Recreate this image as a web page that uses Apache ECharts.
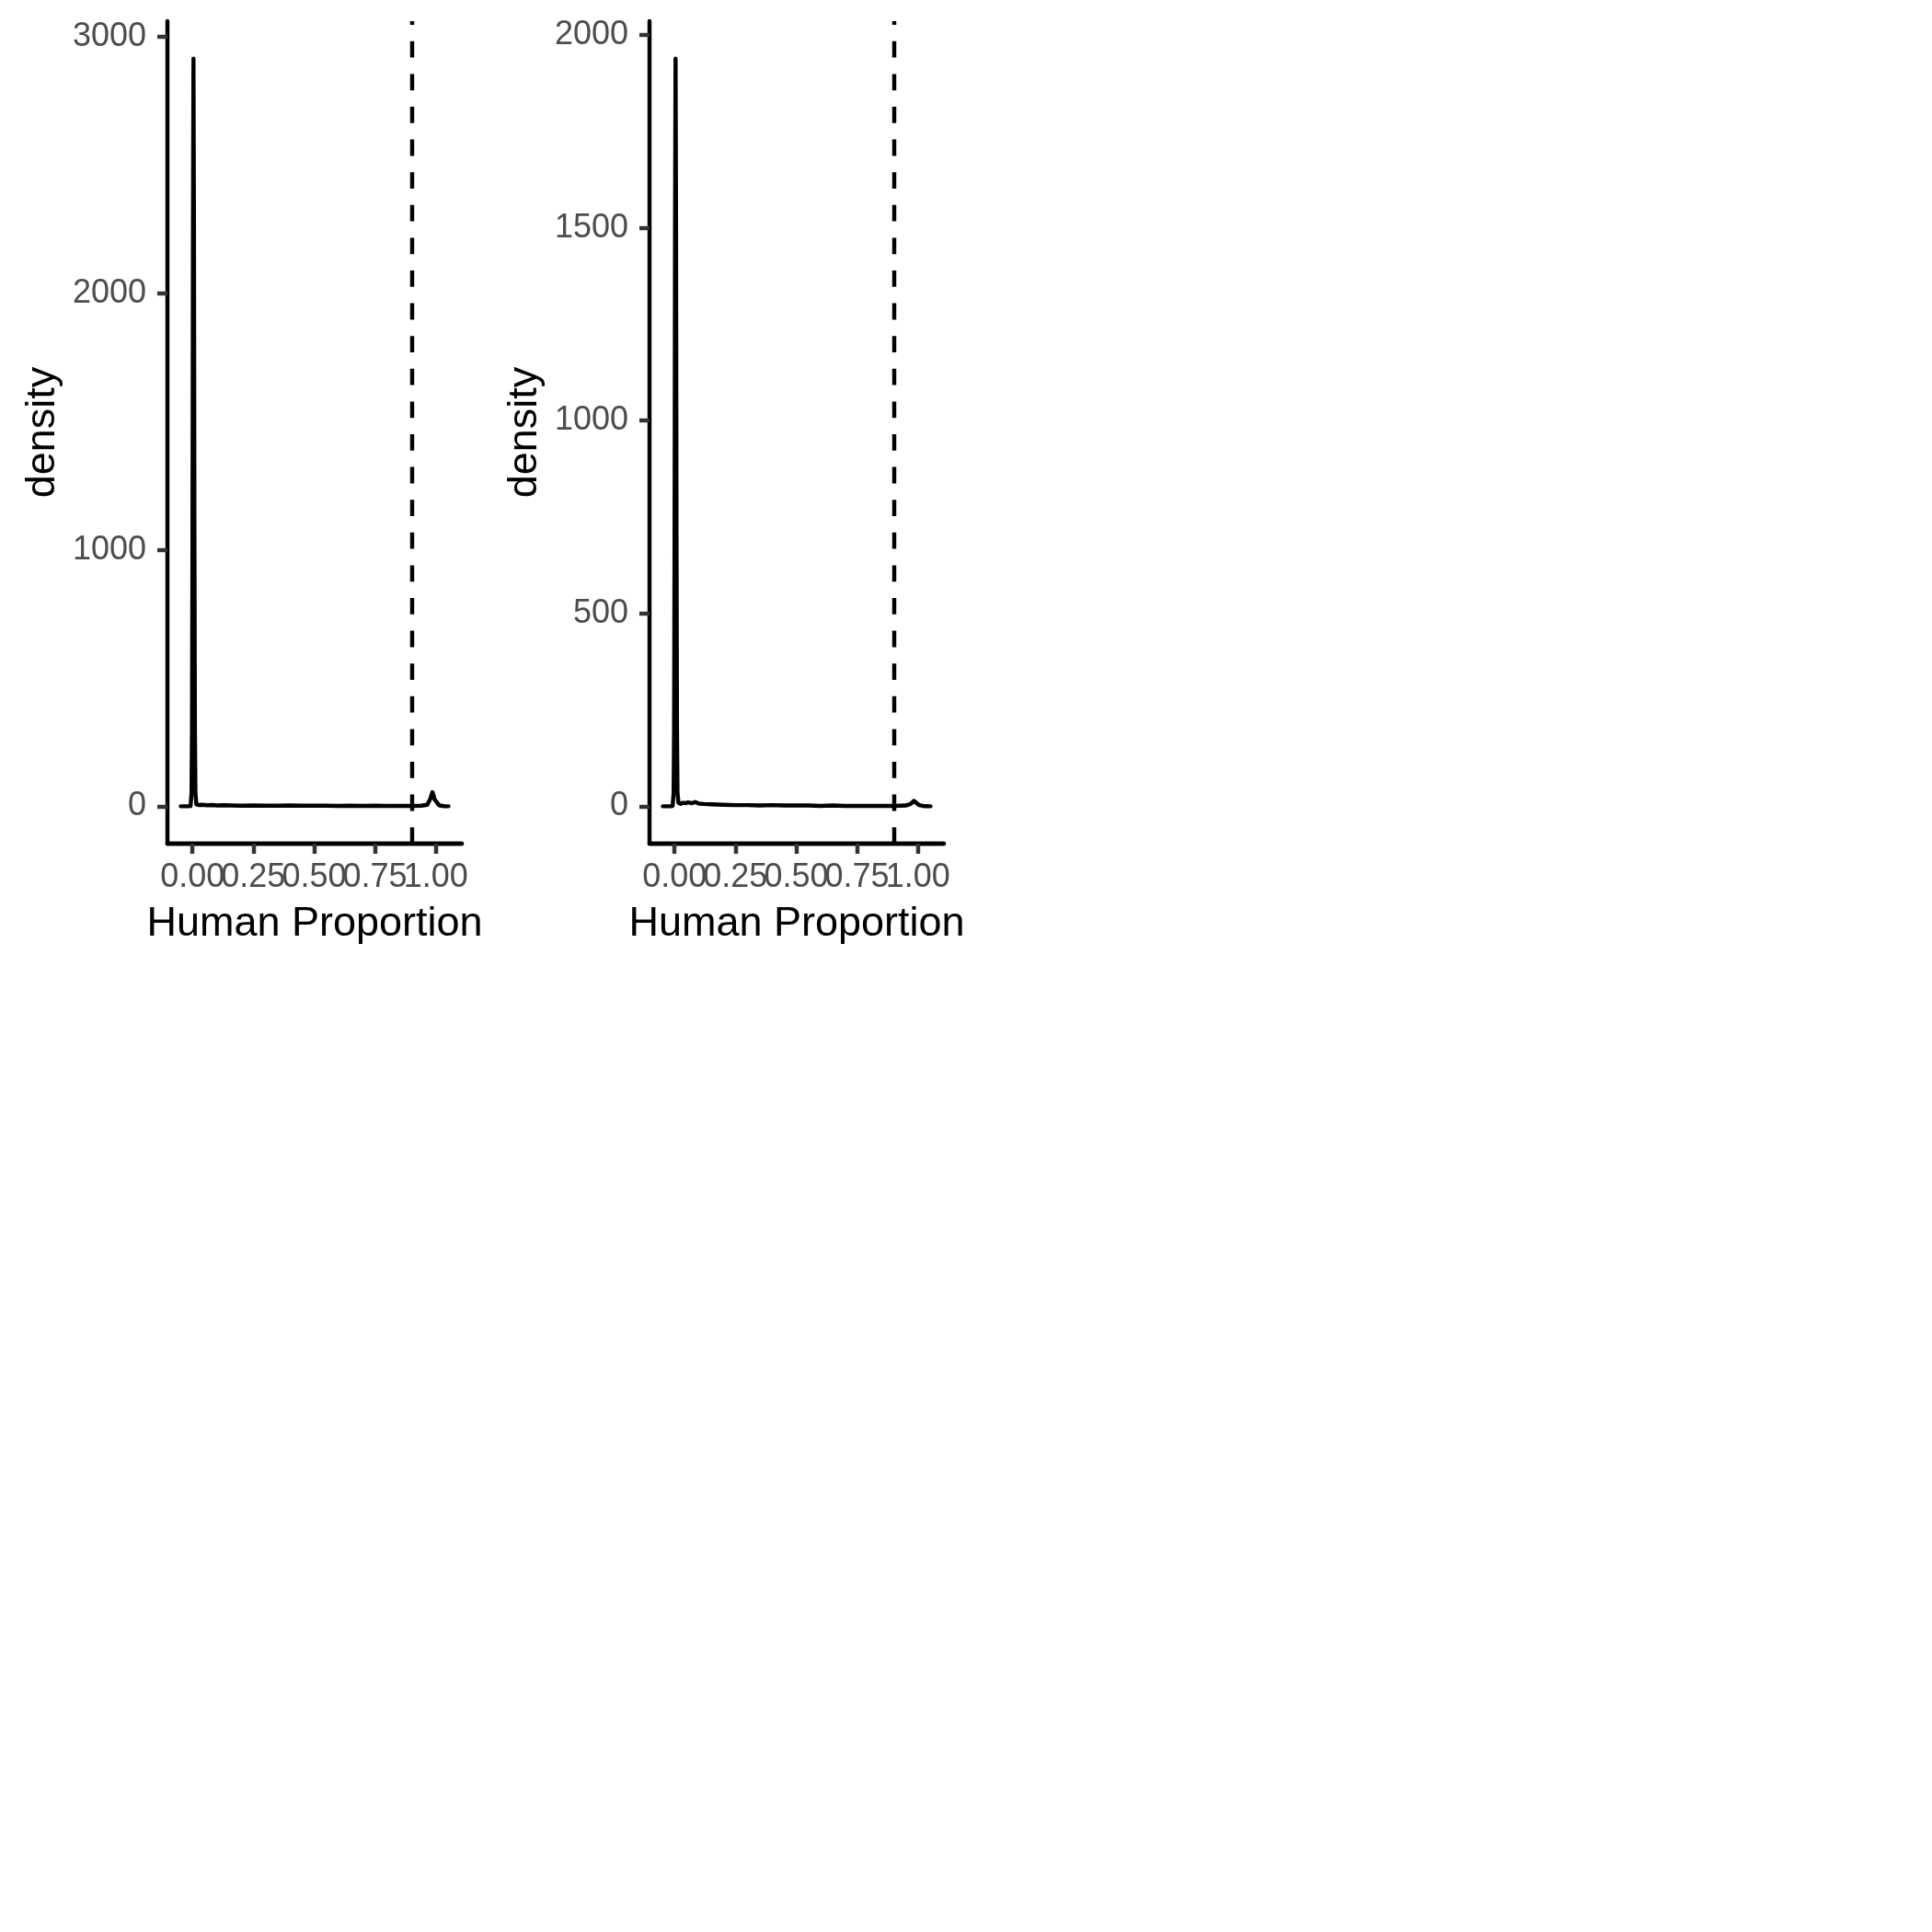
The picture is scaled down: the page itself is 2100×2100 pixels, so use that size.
<!DOCTYPE html>
<html>
<head>
<meta charset="utf-8">
<script src="https://cdn.jsdelivr.net/npm/echarts@6/dist/echarts.min.js"></script>
<style>
  html, body { margin: 0; padding: 0; background: #ffffff; }
  #chart { width: 2100px; height: 2100px; }
</style>
</head>
<body>
<div id="chart"></div>
<script>
// ---- Data ----
const xTicks = [0, 0.25, 0.5, 0.75, 1];
const yTicksA = [0, 1000, 2000, 3000];
const yTicksB = [0, 500, 1000, 1500, 2000];
const threshold = 0.9;
const xTitle = 'Human Proportion';
const yTitle = 'density';

// Panel A density curve
const xA = [-0.048, -0.03, -0.016, -0.012, -0.008, -0.004, -0.002, 0.0, 0.002, 0.004, 0.006, 0.008,
            0.010, 0.012, 0.016, 0.025, 0.04, 0.06, 0.08, 0.10, 0.13, 0.16, 0.2, 0.25, 0.3, 0.35,
            0.4, 0.45, 0.5, 0.55, 0.6, 0.65, 0.7, 0.75, 0.8, 0.85, 0.9, 0.94, 0.965, 0.978,
            0.986, 0.991, 0.996, 1.0, 1.005, 1.012, 1.02, 1.035, 1.052];
const yA = [0, 0, 0, 0.5, 1, 49, 292, 1050, 2263, 2916, 2263, 1050,
            292, 52, 7, 5, 6, 4, 5, 3, 4, 3, 2, 3, 2, 2,
            3, 2, 2, 2, 1, 2, 1, 2, 1, 1, 1, 2, 6, 30,
            55, 40, 25, 22, 15, 5, 2, 0.5, 0];

// Panel B density curve
const xB = [-0.048, -0.03, -0.016, -0.012, -0.008, -0.004, -0.002, 0.0, 0.002, 0.004, 0.006, 0.008,
            0.010, 0.012, 0.016, 0.025, 0.035, 0.045, 0.055, 0.07, 0.085, 0.1, 0.12, 0.15, 0.2,
            0.25, 0.3, 0.35, 0.4, 0.45, 0.5, 0.55, 0.6, 0.65, 0.7, 0.75, 0.8, 0.85, 0.9,
            0.95, 0.97, 0.984, 0.995, 1.005, 1.02, 1.035, 1.052];
const yB = [0, 0, 0, 0.5, 1, 33, 194, 698, 1505, 1939, 1505, 698,
            194, 36, 9, 6, 9, 8, 10, 8, 11, 7, 6, 5, 4,
            3, 3, 2, 3, 2, 2, 2, 1, 2, 1, 1, 1, 1, 1,
            2, 6, 14, 8, 3, 1, 0.5, 0];

// ---- Chart ----
const FONT = 'Liberation Sans';
const LW = 4.45;
const chart = echarts.init(document.getElementById('chart'), null, { renderer: 'canvas' });

function pairs(xs, ys) { return xs.map((x, i) => [x, ys[i]]); }

// Ticks are split across two overlapping axes so ECharts does not drop overlapping labels
const xTicksEven = xTicks.filter((v, i) => i % 2 === 0);
const xTicksOdd = xTicks.filter((v, i) => i % 2 === 1);

function xAxisDef(gridIndex, ticks, withName) {
  return {
    type: 'value', gridIndex: gridIndex, position: 'bottom',
    min: -0.103, max: 1.107,
    name: withName ? xTitle : '', nameLocation: 'middle', nameGap: 65,
    nameTextStyle: { fontFamily: FONT, fontSize: 45, color: '#000000' },
    axisLine: { show: true, onZero: false, lineStyle: { color: '#000000', width: LW } },
    axisTick: { show: true, length: 11, interval: 0, customValues: ticks, lineStyle: { color: '#333333', width: LW } },
    axisLabel: { show: true, margin: 19, interval: 0, customValues: ticks, hideOverlap: false,
      showMinLabel: true, showMaxLabel: true,
      fontFamily: FONT, fontSize: 36, color: '#4d4d4d',
      formatter: v => Number(v).toFixed(2) },
    splitLine: { show: false }
  };
}

function yAxisDef(gridIndex, min, max, ticks) {
  return {
    type: 'value', gridIndex: gridIndex,
    min: min, max: max,
    name: yTitle, nameLocation: 'middle', nameGap: 113,
    nameTextStyle: { fontFamily: FONT, fontSize: 45, color: '#000000' },
    axisLine: { show: true, onZero: false, lineStyle: { color: '#000000', width: LW } },
    axisTick: { show: true, length: 11, customValues: ticks, lineStyle: { color: '#333333', width: LW } },
    axisLabel: { show: true, margin: 23, customValues: ticks,
      showMinLabel: true, showMaxLabel: true,
      padding: [10, 0, 0, 0],
      fontFamily: FONT, fontSize: 36, color: '#4d4d4d',
      formatter: v => String(Math.round(v)) },
    splitLine: { show: false }
  };
}

function seriesDef(xIdx, yIdx, data) {
  return {
    type: 'line', xAxisIndex: xIdx, yAxisIndex: yIdx,
    data: data, showSymbol: false, symbol: 'none', smooth: false,
    lineStyle: { color: '#000000', width: LW, join: 'round', cap: 'round' },
    animation: false, silent: true,
    markLine: {
      silent: true, symbol: ['none', 'none'], label: { show: false },
      animation: false,
      lineStyle: { color: '#000000', width: LW, type: [17.8, 17.8] },
      emphasis: { disabled: true },
      data: [{ xAxis: threshold }]
    }
  };
}

chart.setOption({
  backgroundColor: '#ffffff',
  animation: false,
  grid: [
    { left: 182, top: 23, width: 320, height: 894, containLabel: false, outerBoundsMode: 'none' },
    { left: 706, top: 23, width: 320, height: 894, containLabel: false, outerBoundsMode: 'none' }
  ],
  xAxis: [
    xAxisDef(0, xTicksEven, true), xAxisDef(0, xTicksOdd, false),
    xAxisDef(1, xTicksEven, true), xAxisDef(1, xTicksOdd, false)
  ],
  yAxis: [
    yAxisDef(0, -145.8, 3061.8, yTicksA),
    yAxisDef(1, -96.95, 2035.95, yTicksB)
  ],
  series: [seriesDef(0, 0, pairs(xA, yA)), seriesDef(2, 1, pairs(xB, yB))]
});
</script>
</body>
</html>
